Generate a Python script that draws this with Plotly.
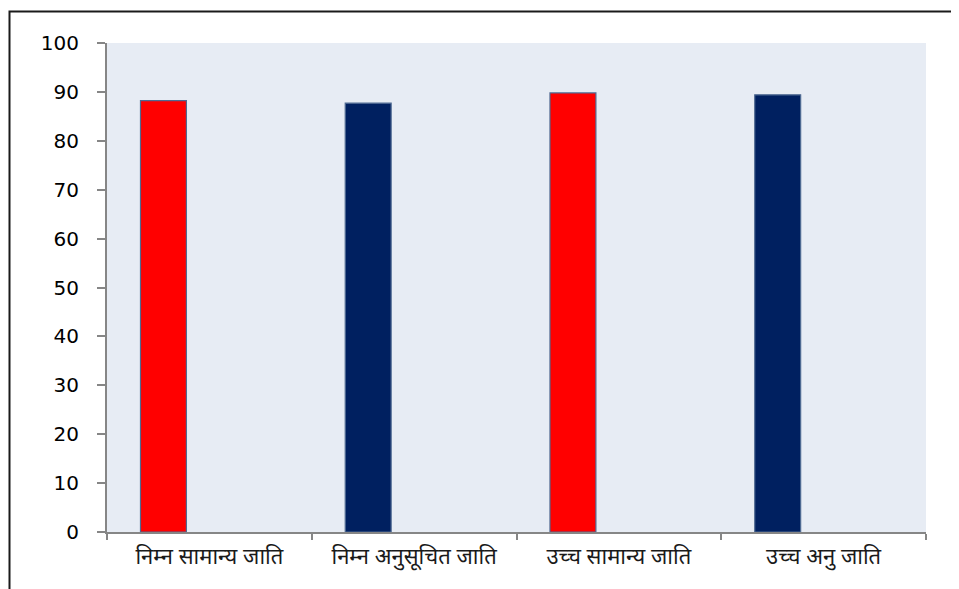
import plotly.graph_objects as go

categories = ["निम्न सामान्य जाति", "निम्न अनुसूचित जाति", "उच्च सामान्य जाति", "उच्च अनु जाति"]
values = [88.2, 87.7, 89.8, 89.4]
bar_colors = ["#FF0000", "#002060", "#FF0000", "#002060"]
y_ticks = [0, 10, 20, 30, 40, 50, 60, 70, 80, 90, 100]

# page body has an 8px margin; figure sized to fill the rest of the window
W, H = 951, 581
ml, mr, mt, mb = 99, 33, 35, 57
pw, ph = W - ml - mr, H - mt - mb

fig = go.Figure()
fig.add_trace(go.Bar(x=categories, y=values, marker=dict(color=bar_colors, line=dict(color="#4F6A92", width=1.2)),
                     showlegend=False, hoverinfo="x+y"))
# two empty series (as in the original clustered chart) to reproduce bar placement
fig.add_trace(go.Bar(x=categories, y=[None]*4, showlegend=False, hoverinfo="skip"))
fig.add_trace(go.Bar(x=categories, y=[None]*4, showlegend=False, hoverinfo="skip"))

fig.update_layout(
    width=W, height=H,
    margin=dict(l=ml, r=mr, t=mt, b=mb),
    paper_bgcolor="white",
    plot_bgcolor="#E7ECF4",
    barmode="group",
    bargap=0.327,
    bargroupgap=0,
    font=dict(family="DejaVu Sans, Noto Sans, sans-serif", color="#000000"),
)
fig.update_xaxes(
    type="category",
    showline=True, linecolor="#868686", linewidth=2,
    ticks="outside", tickson="boundaries", ticklen=6, tickcolor="#868686", tickwidth=2,
    showgrid=False,
    ticklabelstandoff=4,
    tickfont=dict(size=22, family="Noto Sans Devanagari, Noto Sans, sans-serif", color="#1a1a1a"),
)
fig.update_yaxes(
    range=[0, 100], tickvals=y_ticks,
    showline=True, linecolor="#868686", linewidth=2,
    ticks="outside", ticklen=8, tickcolor="#868686", tickwidth=2,
    showgrid=False, zeroline=False,
    ticklabelstandoff=14,
    tickfont=dict(size=20, family="DejaVu Sans, sans-serif", color="#000000"),
)

# outer chart frame
fx0 = (1.5 - ml) / pw
fy1 = 1 + (mt - 3.5) / ph
fig.add_shape(type="rect", xref="paper", yref="paper", x0=fx0, x1=1.2, y0=-0.3, y1=fy1,
              line=dict(color="#1a1a1a", width=2), fillcolor="rgba(0,0,0,0)", layer="above")

fig.write_html("out.html")
